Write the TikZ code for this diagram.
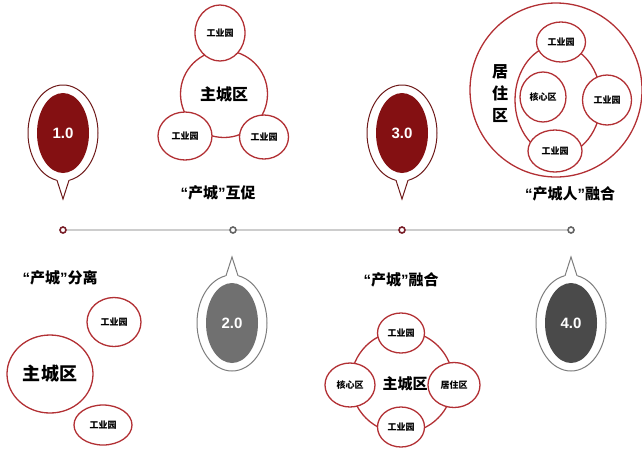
\documentclass[tikz,border=0pt]{standalone}
\usepackage{fontspec}
\setmainfont{Noto Sans CJK SC}
\newfontfamily\numfont{Liberation Sans}
\newcommand{\qopen}{{\numfont\bfseries “}}
\newcommand{\qclose}{{\numfont\bfseries ”}}
\usetikzlibrary{shapes.geometric}
\definecolor{ringred}{RGB}{178,48,52}
\definecolor{rimred}{RGB}{110,25,25}
\definecolor{badgered}{RGB}{132,16,18}
\definecolor{rimgray}{RGB}{125,125,125}
\definecolor{badgegray}{RGB}{112,112,112}
\definecolor{badgedark}{RGB}{74,74,74}
\definecolor{dotred}{RGB}{120,30,40}
\definecolor{dotgray}{RGB}{100,100,100}
\definecolor{linegray}{RGB}{205,205,205}
\tikzset{
    ring/.style={ellipse, draw=ringred, line width=1.3pt, fill=white, inner sep=0pt},
    park/.style={ring, font=\fontsize{9}{10}\selectfont\bfseries},
    hub/.style={ellipse, draw=ringred, line width=1.3pt, inner sep=0pt},
    stage/.style={font=\fontsize{15}{17}\selectfont\bfseries},
    dot/.style={circle, draw=#1, line width=1.6pt, fill=white, minimum size=6pt, inner sep=0pt},
}
\begin{document}
\begin{tikzpicture}[x=1pt,y=-1pt]
        \useasboundingbox (0,0) rectangle (642,451);

        % time line
        \node[dot=dotred]  (t1) at (63,230) {};
        \node[dot=dotgray] (t2) at (233,230) {};
        \node[dot=dotred]  (t3) at (402,230) {};
        \node[dot=dotgray] (t4) at (571,230) {};
        \draw [linegray, line width=1.6pt] (t1) -- (t2) -- (t3) -- (t4);

        % badges
        \foreach \i/\x/\y/\c/\r/\t/\s in {1/63/133/badgered/rimred/1.0/1,
                                          2/232/323/badgegray/rimgray/2.0/-1,
                                          3/402/133/badgered/rimred/3.0/1,
                                          4/571/323/badgedark/rimgray/4.0/-1} {
                \draw [draw=\r, line width=1pt, fill=white] (\x,\y) ellipse (35pt and 48pt);
                \fill [white] (\x-7,\y+\s*44) -- (\x,\y+\s*66) -- (\x+7,\y+\s*44) -- cycle;
                \draw [draw=\r, line width=1pt] (\x-6,\y+\s*47.3) -- (\x,\y+\s*66) -- (\x+6,\y+\s*47.3);
                \node [ellipse, fill=\c, minimum width=52pt, minimum height=80pt, text=white,
                       font=\numfont\fontsize{15}{16}\selectfont\bfseries] (badge\i) at (\x,\y) {\t};
        }

        % stage 1
        \node[stage] (lab1) at (60,278) {\qopen 产城\qclose 分离};
        \node[ring, minimum width=86pt, minimum height=78pt, font=\fontsize{18}{20}\selectfont\bfseries] (city1) at (50,374) {主城区};
        \node[park, minimum width=54pt, minimum height=49pt] (park1a) at (114,322) {工业园};
        \node[park, minimum width=58pt, minimum height=40pt] (park1b) at (103,425) {工业园};

        % stage 2
        \node[stage] (lab2) at (218,193) {\qopen 产城\qclose 互促};
        \node[ring, minimum size=87pt, font=\fontsize{16}{18}\selectfont\bfseries] (city2) at (224,94) {主城区};
        \node[park, minimum width=50pt, minimum height=56pt] (park2a) at (220,33) {工业园};
        \node[park, minimum width=54pt, minimum height=48pt] (park2b) at (185,136) {工业园};
        \node[park, minimum width=49pt, minimum height=44pt] (park2c) at (264,137) {工业园};

        % stage 3
        \node[stage] (lab3) at (401,280) {\qopen 产城\qclose 融合};
        \node[hub, minimum size=102pt] (hub3) at (402,382) {};
        \node[font=\fontsize{15}{17}\selectfont\bfseries] (city3) at (405,384) {主城区};
        \node[park, minimum width=47pt, minimum height=40pt] (park3a) at (401,333) {工业园};
        \node[park, minimum width=47pt, minimum height=40pt] (park3b) at (401,427) {工业园};
        \node[park, minimum width=50pt, minimum height=44pt] (core3) at (350,385) {核心区};
        \node[park, minimum width=52pt, minimum height=45pt] (home3) at (454,385) {居住区};

        % stage 4
        \node[stage] (lab4) at (570,194) {\qopen 产城人\qclose 融合};
        \node[hub, minimum width=172pt, minimum height=174pt] (home4) at (556,90) {};
        \node[font=\fontsize{16}{22}\selectfont\bfseries, align=center] (homelab4) at (500,94) {居\\住\\区};
        \node[hub, minimum width=86pt, minimum height=110pt] (hub4) at (558,100) {};
        \node[park, minimum width=49pt, minimum height=40pt] (park4a) at (561,42) {工业园};
        \node[park, minimum width=49pt, minimum height=50pt] (park4b) at (607,100) {工业园};
        \node[park, minimum width=54pt, minimum height=42pt] (park4c) at (555,151) {工业园};
        \node[park, minimum width=46pt, minimum height=50pt] (core4) at (543,97) {核心区};

\end{tikzpicture}
\end{document}
